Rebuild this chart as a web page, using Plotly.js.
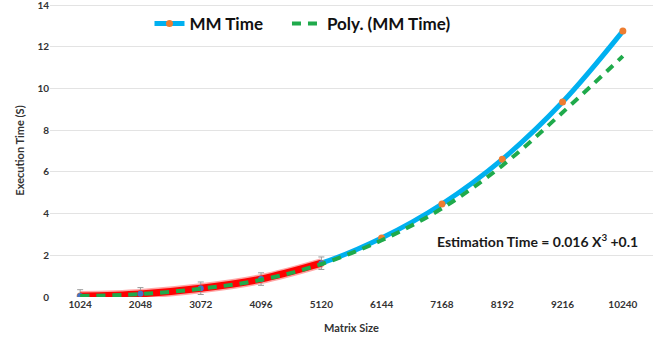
<!DOCTYPE html>
<html>
<head>
<meta charset="utf-8">
<script src="https://cdn.plot.ly/plotly-3.0.1.min.js"></script>
<style>
  html, body { margin: 0; padding: 0; background: #fff; }
  #chart { width: 671px; height: 343px; }
</style>
</head>
<body>
<div id="chart"></div>
<script>
// Matrix sizes (categories)
const matrixSizes = ['1024', '2048', '3072', '4096', '5120', '6144', '7168', '8192', '9216', '10240'];
// Measured multiplication time, seconds
const mmTime = [0.05, 0.15, 0.42, 0.86, 1.62, 2.83, 4.46, 6.6, 9.35, 12.75];
// Cubic trend line values
const polyTime = [0.05, 0.14, 0.4, 0.82, 1.58, 2.72, 4.25, 6.3, 8.85, 11.55];
// First five sizes, with their error margins
const smallSizes = matrixSizes.slice(0, 5);
const smallTime = mmTime.slice(0, 5);
const smallError = [0.3, 0.3, 0.3, 0.3, 0.3];

const FONT = 'Lato, "Open Sans", sans-serif';
const LEGEND_FONT = { family: FONT, size: 17, color: '#111', weight: 'bold' };

const traces = [
  {
    x: matrixSizes, y: mmTime, type: 'scatter', mode: 'lines+markers',
    name: 'MM Time', legend: 'legend',
    line: { color: '#00B0F0', width: 5, shape: 'spline', smoothing: 1 },
    marker: { color: '#ED7D31', size: 7 }
  },
  {
    x: smallSizes, y: smallTime, type: 'scatter', mode: 'lines',
    showlegend: false, hoverinfo: 'skip',
    line: { color: 'rgba(255,0,0,0.35)', width: 10, shape: 'spline', smoothing: 1 }
  },
  {
    x: smallSizes, y: smallTime, type: 'scatter', mode: 'lines+markers',
    showlegend: false,
    line: { color: '#FF0000', width: 7, shape: 'spline', smoothing: 1 },
    marker: { color: '#4472C4', size: 6 },
    error_y: { type: 'data', array: smallError, visible: true, color: '#9a9a9a', thickness: 1, width: 3 }
  },
  {
    x: matrixSizes, y: polyTime, type: 'scatter', mode: 'lines',
    name: 'Poly. (MM Time)', legend: 'legend2',
    line: { color: '#1FAA4B', width: 4, dash: '9px,7px', shape: 'spline', smoothing: 1 }
  }
];

const layout = {
  width: 671, height: 343,
  margin: { l: 50, r: 18, t: 4, b: 46 },
  paper_bgcolor: '#ffffff', plot_bgcolor: '#ffffff',
  font: { family: FONT, color: '#404040' },
  showlegend: true,
  legend: {
    orientation: 'h', x: 0.165, y: 0.993, xanchor: 'left', yanchor: 'top',
    bgcolor: '#ffffff', font: LEGEND_FONT, itemwidth: 30
  },
  legend2: {
    orientation: 'h', x: 0.393, y: 0.993, xanchor: 'left', yanchor: 'top',
    bgcolor: '#ffffff', font: LEGEND_FONT, itemwidth: 30
  },
  xaxis: {
    type: 'category', range: [-0.5, 9.5],
    showgrid: false, zeroline: false, showline: false,
    ticks: '', tickfont: { family: FONT, size: 10, color: '#333', weight: 'bold' },
    title: { text: 'Matrix Size', font: { family: FONT, size: 11, color: '#333', weight: 'bold' }, standoff: 15 }
  },
  yaxis: {
    range: [0, 14.05], dtick: 2, tick0: 0,
    ticklabeloverflow: 'allow',
    showgrid: true, gridcolor: '#e3e3e3', gridwidth: 1,
    zeroline: false, showline: false, ticks: '',
    tickfont: { family: FONT, size: 10, color: '#333', weight: 'bold' },
    title: { text: 'Execution Time (S)', font: { family: FONT, size: 11, color: '#333', weight: 'bold' }, standoff: 10 }
  },
  annotations: [{
    xref: 'paper', yref: 'paper', x: 0.808, y: 0.192,
    xanchor: 'center', yanchor: 'middle', showarrow: false,
    text: 'Estimation Time = 0.016 X<sup>3</sup> +0.1',
    font: { family: FONT, size: 14, color: '#1a1a1a', weight: 'bold' }
  }]
};

Plotly.newPlot('chart', traces, layout, { displayModeBar: false, staticPlot: true });
</script>
</body>
</html>
